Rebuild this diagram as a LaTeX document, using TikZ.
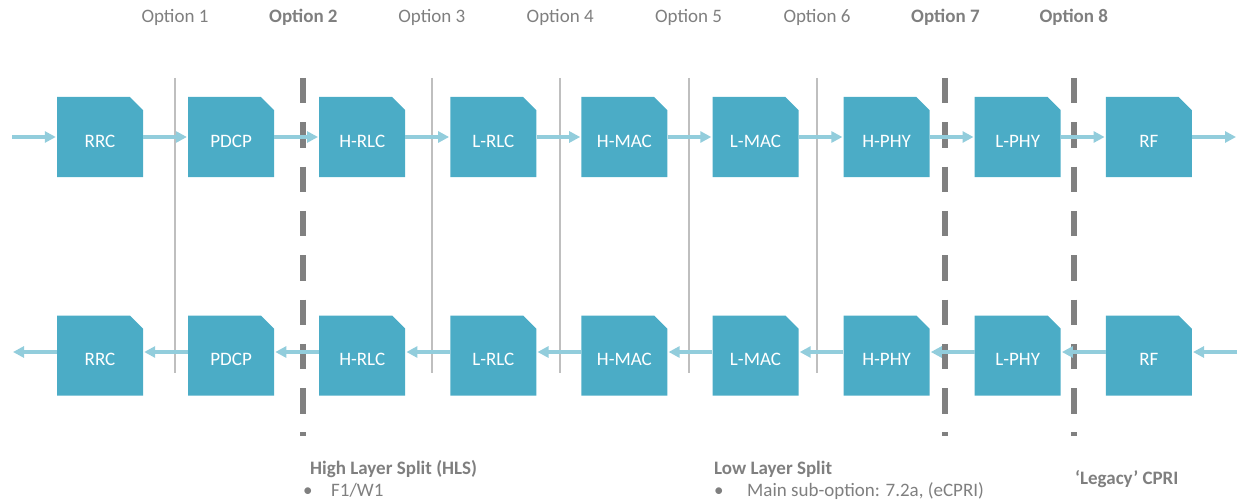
\documentclass[tikz,border=0pt]{standalone}
\usepackage{fontspec}
\setmainfont{Carlito}
\usetikzlibrary{arrows.meta,shapes.misc}
\definecolor{boxc}{HTML}{4BACC6}
\definecolor{arrc}{HTML}{92CDDC}
\definecolor{txtc}{HTML}{7F7F7F}
\definecolor{solc}{HTML}{BFBFBF}
\definecolor{dshc}{HTML}{808080}
\begin{document}
\begin{tikzpicture}[x=1pt,y=-1pt,
  layerbox/.style={chamfered rectangle, chamfered rectangle corners=north east,
    chamfered rectangle xsep=13pt, fill=boxc, draw=none,
    minimum width=86pt, minimum height=80pt, inner sep=0pt, text=white,
    font=\fontsize{19}{23}\selectfont, text height=20pt, text depth=0pt},
  flow/.style={draw=arrc, line width=3.5pt, -{Triangle[length=11pt,width=11pt]}, shorten >=1pt},
  solidsplit/.style={draw=solc, line width=2pt},
  dashsplit/.style={draw=dshc, line width=6pt, dash pattern=on 25.5pt off 18.8pt},
  optlabel/.style={text=txtc, font=\fontsize{19}{23}\selectfont, anchor=base, inner sep=0pt},
  optbold/.style={optlabel, font=\fontsize{19}{23}\selectfont\bfseries},
  headtext/.style={text=txtc, font=\fontsize{19}{23}\selectfont\bfseries, anchor=base west, inner sep=0pt},
  bodytext/.style={text=txtc, font=\fontsize{19}{23}\selectfont, anchor=base west, inner sep=0pt}
]
\useasboundingbox (0,0) rectangle (1238,500);

% split lines
\foreach \k in {0,2,3,4,5} {
  \draw[solidsplit] ({175+128.4*\k},78) -- ({175+128.4*\k},373);
}
\foreach \k in {1,6,7} {
  \draw[dashsplit] ({175+128.4*\k},78) -- ({175+128.4*\k},436);
}

% option labels
\node[optlabel] (o1) at (175,23) {Option 1};
\node[optbold]  (o2) at (303.4,23) {Option 2};
\node[optlabel] (o3) at (431.8,23) {Option 3};
\node[optlabel] (o4) at (560.2,23) {Option 4};
\node[optlabel] (o5) at (688.6,23) {Option 5};
\node[optlabel] (o6) at (817,23) {Option 6};
\node[optbold]  (o7) at (945.4,23) {Option 7};
\node[optbold]  (o8) at (1073.8,23) {Option 8};

% boxes
\foreach \name [count=\i from 0] in {RRC,PDCP,H-RLC,L-RLC,H-MAC,L-MAC,H-PHY,L-PHY,RF} {
  \node[layerbox] (t\i) at ({100+131.1*\i},137) {\name};
  \node[layerbox] (b\i) at ({100+131.1*\i},355.5) {\name};
}

% free ends
\coordinate (inT) at (12,137);
\coordinate (outT) at (1237,137);
\coordinate (inB) at (1237,352);
\coordinate (outB) at (12,352);

% top flow (left to right)
\draw[flow] (inT) -- (t0.west);
\foreach \i [evaluate=\i as \j using int(\i+1)] in {0,...,7} {
  \draw[flow] (t\i.east) -- (t\j.west);
}
\draw[flow] (t8.east) -- (outT);

% bottom flow (right to left)
\draw[flow] (inB) -- ([yshift=3.5pt]b8.east);
\foreach \i [evaluate=\i as \j using int(\i+1)] in {0,...,7} {
  \draw[flow] ([yshift=3.5pt]b\j.west) -- ([yshift=3.5pt]b\i.east);
}
\draw[flow] ([yshift=3.5pt]b0.west) -- (outB);

% bottom texts
\node[headtext] (hls) at (310,474) {High Layer Split (HLS)};
\node[bodytext] (hlsb) at (303,496) {•};
\node[bodytext] (hlst) at (331,496) {F1/W1};
\node[headtext] (lls) at (714,474) {Low Layer Split};
\node[bodytext] (llsb) at (714,496) {•};
\node[bodytext] (llst) at (747,496) {Main sub-option: 7.2a, (eCPRI)};
\node[headtext] (cpri) at (1075,484) {‘Legacy’ CPRI};
\end{tikzpicture}
\end{document}
